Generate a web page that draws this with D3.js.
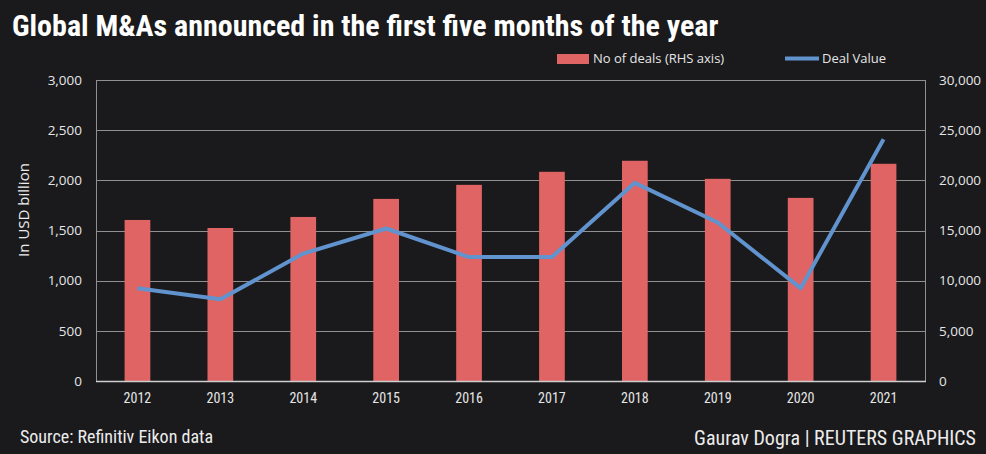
<!DOCTYPE html>
<html><head><meta charset="utf-8">
<script src="https://cdn.jsdelivr.net/npm/d3@7/dist/d3.min.js"></script>
<style>
html,body{margin:0;padding:0;background:#1a1a1c;}
svg{display:block;}
</style></head>
<body>
<script>
const years = ["2012","2013","2014","2015","2016","2017","2018","2019","2020","2021"];
const dealCount = [16050, 15250, 16350, 18150, 19550, 20850, 21950, 20150, 18250, 21650];
const dealValue = [925, 815, 1270, 1520, 1235, 1235, 1975, 1580, 925, 2410];
const leftTicks = [0, 500, 1000, 1500, 2000, 2500, 3000];
const rightTicks = [0, 5000, 10000, 15000, 20000, 25000, 30000];

const W = 986, H = 454;
const m = {left: 96, right: 925, top: 80, bottom: 381};
const svg = d3.select("body").append("svg").attr("width", W).attr("height", H);
svg.append("rect").attr("width", W).attr("height", H).attr("fill", "#1a1a1c");

const x = d3.scaleBand().domain(years).range([m.left, m.right]).paddingInner(0.69).paddingOuter(0.345);
const yL = d3.scaleLinear().domain([0, 3000]).range([m.bottom, m.top]);
const yR = d3.scaleLinear().domain([0, 30000]).range([m.bottom, m.top]);
const fmt = d3.format(",");

// gridlines
svg.append("g").selectAll("line").data(leftTicks.slice(1)).join("line")
  .attr("x1", m.left).attr("x2", m.right)
  .attr("y1", d => Math.round(yL(d)) + 0.5).attr("y2", d => Math.round(yL(d)) + 0.5)
  .attr("stroke", "#909090").attr("stroke-width", 1);
// side axis lines
[m.left, m.right].forEach(px => {
  svg.append("line").attr("x1", px + 0.5).attr("x2", px + 0.5).attr("y1", m.top).attr("y2", m.bottom)
    .attr("stroke", "#909090");
});

// bars
svg.append("g").selectAll("rect").data(years).join("rect")
  .attr("x", d => x(d)).attr("width", x.bandwidth())
  .attr("y", (d, i) => yR(dealCount[i])).attr("height", (d, i) => m.bottom - yR(dealCount[i]))
  .attr("fill", "#df6463");

// bottom axis line
svg.append("line").attr("x1", m.left).attr("x2", m.right + 1).attr("y1", m.bottom + 0.5).attr("y2", m.bottom + 0.5)
  .attr("stroke", "#cfcfcf").attr("stroke-width", 1.5);

// line
const line = d3.line().x((d, i) => x(years[i]) + x.bandwidth() / 2).y(d => yL(d));
svg.append("path").datum(dealValue).attr("d", line)
  .attr("fill", "none").attr("stroke", "#6193ce").attr("stroke-width", 4).attr("stroke-linejoin", "round");

// left axis labels
const axisFont = "'Open Sans', 'DejaVu Sans', sans-serif";
const gl = svg.append("g").attr("transform", `translate(${m.left - 14},0)`)
  .call(d3.axisLeft(yL).tickValues(leftTicks).tickFormat(fmt).tickSize(0).tickPadding(0));
gl.select(".domain").remove();
gl.selectAll("text").attr("fill", "#e6e6e6").style("font-family", axisFont).style("font-size", "13.5px");

const gr = svg.append("g").attr("transform", `translate(${m.right + 14},0)`)
  .call(d3.axisRight(yR).tickValues(rightTicks).tickFormat(fmt).tickSize(0).tickPadding(0));
gr.select(".domain").remove();
gr.selectAll("text").attr("fill", "#e6e6e6").style("font-family", axisFont).style("font-size", "13.5px");

// x axis labels
const condFont = "'Liberation Sans Narrow', 'Roboto Condensed', 'DejaVu Sans Condensed', sans-serif";
const gx = svg.append("g").attr("transform", `translate(0,${m.bottom + 12})`)
  .call(d3.axisBottom(x).tickSize(0).tickPadding(0));
gx.select(".domain").remove();
gx.selectAll("text").attr("fill", "#e6e6e6").style("font-family", condFont).style("font-size", "14px");

// y axis title
svg.append("text").attr("transform", "translate(29,210) rotate(-90)")
  .attr("text-anchor", "middle").attr("fill", "#ececec")
  .style("font-family", axisFont).style("font-size", "15px").text("In USD billion");

// title
svg.append("text").attr("x", 12).attr("y", 36).attr("fill", "#ffffff")
  .style("font-family", condFont).style("font-weight", "bold").style("font-size", "30px")
  .text("Global M&As announced in the first five months of the year");

// legend
svg.append("rect").attr("x", 557).attr("y", 54).attr("width", 32).attr("height", 10).attr("fill", "#df6463");
svg.append("text").attr("x", 593).attr("y", 63).attr("fill", "#e6e6e6")
  .style("font-family", axisFont).style("font-size", "13px").text("No of deals (RHS axis)");
svg.append("line").attr("x1", 785).attr("x2", 819).attr("y1", 58.5).attr("y2", 58.5)
  .attr("stroke", "#6193ce").attr("stroke-width", 4);
svg.append("text").attr("x", 822).attr("y", 63).attr("fill", "#e6e6e6")
  .style("font-family", axisFont).style("font-size", "13px").text("Deal Value");

// footer
svg.append("text").attr("x", 20).attr("y", 443).attr("fill", "#ececec")
  .style("font-family", condFont).style("font-size", "18px").text("Source: Refinitiv Eikon data");
svg.append("text").attr("x", 976).attr("y", 445).attr("text-anchor", "end").attr("fill", "#ececec")
  .style("font-family", condFont).style("font-size", "20px").text("Gaurav Dogra | REUTERS GRAPHICS");
</script>
</body></html>
